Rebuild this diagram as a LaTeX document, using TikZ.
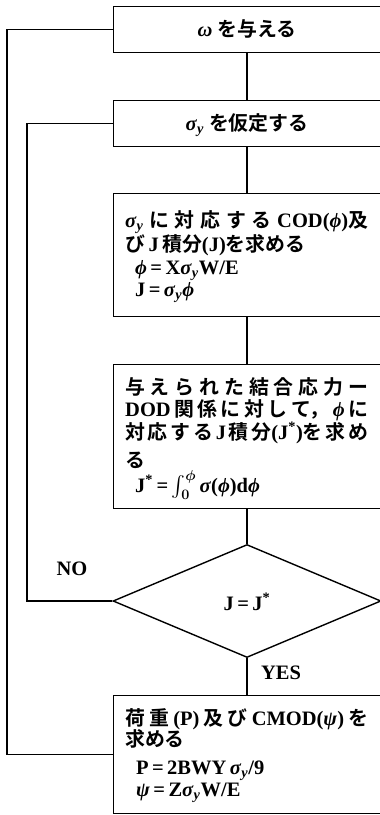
\documentclass[tikz,border=0pt]{standalone}
\usepackage{amsmath}
\usepackage{fontspec}
\setmainfont{Liberation Serif}
\newfontfamily\jpf{Noto Sans CJK JP}[Scale=0.97,BoldFont=* Bold]
\newcommand{\jpt}[1]{{\jpf #1}}
\newcommand{\gsp}{\hspace{0pt plus 1fil}}
\newcommand{\gk}[1]{\textit{#1}}
\newcommand{\sgy}{\textit{σ}\textsubscript{\textit{y}}}
\usetikzlibrary{shapes.geometric}
\tikzset{
  flowbox/.style={draw, line width=1.4pt, rectangle, inner sep=0pt, anchor=north west, minimum width=295pt},
  decbox/.style={draw, line width=1.4pt, diamond, inner sep=0pt, minimum width=268pt, minimum height=113pt},
  conn/.style={line width=1.4pt},
  txt/.style={inner sep=0pt, anchor=base west, text height=15pt, text depth=3pt, font=\fontsize{20.5}{24}\selectfont\bfseries\boldmath},
  ctxt/.style={inner sep=0pt, anchor=base, text height=15pt, text depth=3pt, font=\fontsize{20.5}{24}\selectfont\bfseries\boldmath},
}
\begin{document}
\begin{tikzpicture}[x=1pt,y=-1pt]
\useasboundingbox (0,0) rectangle (380,815);
\clip (0,0) rectangle (380,815);
% boxes
\node[flowbox, minimum height=46pt] (b1) at (113,6) {};
\node[flowbox, minimum height=46pt] (b2) at (113,100) {};
\node[flowbox, minimum height=123pt] (b3) at (113,193) {};
\node[flowbox, minimum height=144pt] (b4) at (113,364) {};
\node[decbox] (d) at (247,601) {};
\node[flowbox, minimum height=118pt] (b6) at (113,695) {};
% helper coordinates
\coordinate (ax) at (247,0);
\coordinate (inl) at (27,0);
\coordinate (outl) at (7,0);
% connectors
\draw[conn] (b1.south -| ax) -- (b2.north -| ax);
\draw[conn] (b2.south -| ax) -- (b3.north -| ax);
\draw[conn] (b3.south -| ax) -- (b4.north -| ax);
\draw[conn] (b4.south -| ax) -- (d.north);
\draw[conn] (d.south) -- (b6.north -| ax);
\draw[conn] (d.west) -- (d.west -| inl) -- (b2.west -| inl) -- (b2.west);
\draw[conn] (b6.west) -- (b6.west -| outl) -- (b1.west -| outl) -- (b1.west);
% texts
\node[ctxt] (t1) at (247,36) {\gk{ω}\ \jpt{を与える}};
\node[ctxt] (t2) at (247,130) {\sgy\ \jpt{を仮定する}};
\node[txt] (t3a) at (125,227) {\makebox[243pt][s]{\sgy\gsp\jpt{に\gsp 対\gsp 応\gsp す\gsp る}\gsp COD(\gk{ϕ})\jpt{及}}};
\node[txt] (t3b) at (125,251) {\jpt{び}\,J\,\jpt{積分}(J)\jpt{を求める}};
\node[txt] (t3c) at (135,274) {\gk{ϕ}\,=\,X\sgy W/E};
\node[txt] (t3d) at (135,296) {J\,=\,\sgy\gk{ϕ}};
\node[txt] (t4a) at (125,394) {\makebox[243pt][s]{\jpt{与\gsp え\gsp ら\gsp れ\gsp た\gsp 結\gsp 合\gsp 応\gsp 力\gsp ー}}};
\node[txt] (t4b) at (125,416) {\makebox[243pt][s]{DOD\gsp\jpt{関\gsp 係\gsp に\gsp 対\gsp し\gsp て，}\gsp\gk{ϕ}\gsp\jpt{に}}};
\node[txt] (t4c) at (125,439) {\makebox[243pt][s]{\jpt{対\gsp 応\gsp す\gsp る}\gsp J\gsp\jpt{積\gsp 分}(J\textsuperscript{*})\jpt{を\gsp 求\gsp め}}};
\node[txt] (t4d) at (125,467) {\jpt{る}};
\node[txt] (t4e) at (135,492) {J\textsuperscript{*}\,=\,\ensuremath{\int_{0}^{\phi}}\,\gk{σ}(\gk{ϕ})d\gk{ϕ}};
\node[ctxt] (td) at (247,610) {J\,=\,J\textsuperscript{*}};
\node[ctxt] (tno) at (72,575) {NO};
\node[ctxt] (tyes) at (281,679) {YES};
\node[txt] (t6a) at (125,725) {\makebox[243pt][s]{\jpt{荷\gsp 重}\gsp(P)\gsp\jpt{及\gsp び}\gsp CMOD(\gk{ψ})\gsp\jpt{を}}};
\node[txt] (t6b) at (125,746) {\jpt{求める}};
\node[txt] (t6c) at (136,774) {P\,=\,2BWY\,\sgy/9};
\node[txt] (t6d) at (136,796) {\gk{ψ}\,=\,Z\sgy W/E};
\end{tikzpicture}
\end{document}
